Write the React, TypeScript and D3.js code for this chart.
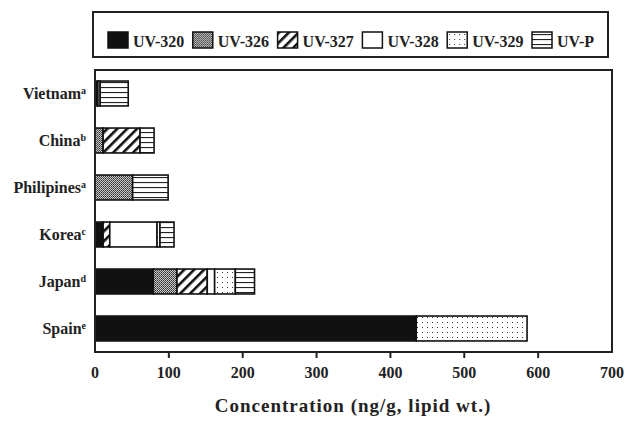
import * as d3 from 'd3';

const categories = ['Vietnam', 'China', 'Philipines', 'Korea', 'Japan', 'Spain'];
const sups = ['a', 'b', 'a', 'c', 'd', 'e'];
const seriesNames = ['UV-320', 'UV-326', 'UV-327', 'UV-328', 'UV-329', 'UV-P'];

// valores (ng/g lípido)
const uv320 = [4, 0, 0, 11, 79, 435];
const uv326 = [0, 11, 51, 0, 32, 0];
const uv327 = [0, 50, 0, 9, 41, 0];
const uv328 = [3, 0, 0, 64, 10, 0];
const uv329 = [0, 0, 0, 4, 28, 150];
const uvP = [38, 19, 48, 19, 26, 0];

const xTicks = [0, 100, 200, 300, 400, 500, 600, 700];

const fills = ['#111', 'url(#p326)', 'url(#p327)', '#fff', 'url(#p329)', 'url(#pP)'];

const fontStyle = { fontFamily: 'Liberation Serif', fontWeight: 'bold' as const };

export default function App() {
  const width = 625;
  const height = 422;
  const margin = { top: 70, right: 13, bottom: 70, left: 95 };
  const plotW = width - margin.left - margin.right;
  const plotH = height - margin.top - margin.bottom;

  const allSeries = [uv320, uv326, uv327, uv328, uv329, uvP];
  const rows = categories.map((c, i) => {
    const r: any = { cat: c };
    seriesNames.forEach((s, j) => (r[s] = allSeries[j][i]));
    return r;
  });
  const stacked = d3.stack().keys(seriesNames)(rows);

  const x = d3.scaleLinear().domain([0, 700]).range([0, plotW]);
  const y = d3.scaleBand().domain(categories).range([0, plotH]).paddingInner(0.47).paddingOuter(0.235);

  const legendX = d3.scalePoint().domain(seriesNames).range([108, 532]);

  return (
    <svg width={width} height={height} style={{ position: 'absolute', left: 0, top: 0, background: '#fff' }}>
      <defs>
        <pattern id="p326" width="2" height="2" patternUnits="userSpaceOnUse">
          <rect width="2" height="2" fill="#c8c8c8" />
          <rect width="1" height="1" fill="#333" />
          <rect x="1" y="1" width="1" height="1" fill="#555" />
        </pattern>
        <pattern id="p327" width="7" height="7" patternUnits="userSpaceOnUse" patternTransform="rotate(45)">
          <rect width="7" height="7" fill="#fff" />
          <rect x="0" width="2.6" height="7" fill="#111" />
        </pattern>
        <pattern id="p329" width="5" height="5" patternUnits="userSpaceOnUse">
          <rect width="5" height="5" fill="#fff" />
          <rect x="2" y="2" width="1" height="1" fill="#333" />
        </pattern>
        <pattern id="pP" width="5" height="5" patternUnits="userSpaceOnUse">
          <rect width="5" height="5" fill="#fff" />
          <rect y="2" width="5" height="1.1" fill="#222" />
        </pattern>
      </defs>

      {/* leyenda */}
      <rect x={93} y={12} width={515} height={45} fill="#fff" stroke="#222" strokeWidth={2} />
      {seriesNames.map((s, i) => (
        <g key={s} transform={`translate(${legendX(s)},32)`}>
          <rect width={20} height={16} fill={fills[i]} stroke="#111" strokeWidth={1.5} />
          <text x={25} y={15} style={fontStyle} fontSize={16} fill="#222">
            {s}
          </text>
        </g>
      ))}

      <g transform={`translate(${margin.left},${margin.top})`}>
        {stacked.map((layer, j) => (
          <g key={layer.key}>
            {layer.map((d, i) =>
              d[1] - d[0] > 0 ? (
                <rect
                  key={i}
                  x={x(d[0])}
                  y={y(categories[i])}
                  width={x(d[1]) - x(d[0])}
                  height={y.bandwidth()}
                  fill={fills[j]}
                  stroke="#111"
                  strokeWidth={1.6}
                />
              ) : null
            )}
          </g>
        ))}

        <rect x={0} y={0} width={plotW} height={plotH} fill="none" stroke="#222" strokeWidth={2} />

        {xTicks.map((t) => (
          <g key={t} transform={`translate(${x(t)},${plotH})`}>
            {t > 0 && t < 700 && <line y1={0} y2={6} stroke="#222" strokeWidth={2} />}
            <text y={26} textAnchor="middle" style={fontStyle} fontSize={16} fill="#222">
              {t}
            </text>
          </g>
        ))}

        {categories.map((c, i) => (
          <text
            key={c}
            x={-9}
            y={(y(c) as number) + y.bandwidth() / 2 + 5}
            textAnchor="end"
            style={fontStyle}
            fontSize={16}
            fill="#222"
          >
            {c}
            <tspan fontSize={10} dy={-5}>
              {sups[i]}
            </tspan>
          </text>
        ))}
      </g>

      <text x={353} y={412} textAnchor="middle" style={fontStyle} fontSize={19} letterSpacing={1} fill="#222">
        Concentration (ng/g, lipid wt.)
      </text>
    </svg>
  );
}
